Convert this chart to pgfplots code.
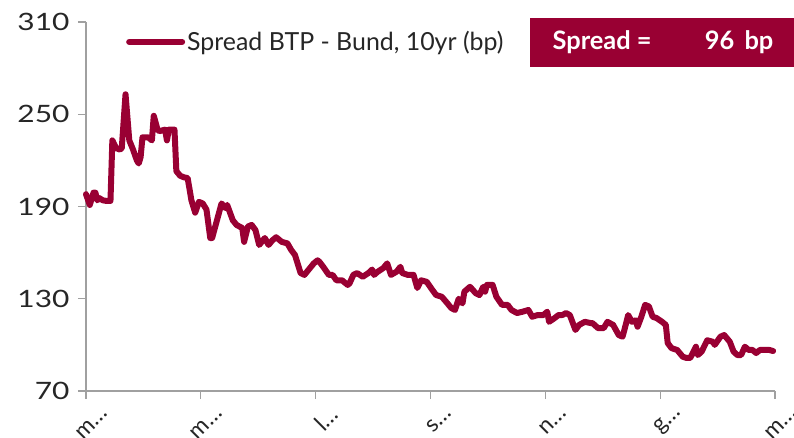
\documentclass[border=0pt]{standalone}
\usepackage{pgfplots}
\pgfplotsset{compat=1.18}
\usepackage{fontspec}
\setmainfont{Lato}[Numbers=Monospaced]
\definecolor{wine}{HTML}{990033}
\definecolor{axgrey}{HTML}{A0A0A0}
\begin{document}
\begin{tikzpicture}
\useasboundingbox (-86bp,-47bp) rectangle (708bp,391bp);
\begin{axis}[
  at={(0,0)}, anchor=south west,
  scale only axis, width=689bp, height=369bp,
  xmin=0, xmax=366, ymin=70, ymax=310,
  xtick={0,61,122,183,244,305,366},
  xticklabels={m…,m…,l…,s…,n…,g…,m…},
  ytick={70,130,190,250,310},
  yticklabel={\scalebox{1.25}[1]{\pgfmathprintnumber{\tick}}},
  axis x line*=bottom, axis y line*=left,
  axis line style={axgrey, line width=1.2bp},
  tick style={axgrey, line width=1.2bp},
  tick align=outside, major tick length=8bp,
  /pgf/number format/assume math mode=true,
  yticklabel style={font=\fontsize{24}{28}\selectfont, text=black!85, xshift=-5bp},
  xticklabel style={font=\fontsize{23}{26}\selectfont, text=black!85,
    xshift=21bp, yshift=-9bp, rotate=45, anchor=east},
  legend style={draw=none, fill=none, at={(0.058,0.946)}, anchor=west,
    font=\fontsize{25}{28}\selectfont, text=black!85, inner sep=0pt},
  legend image code/.code={\draw[#1, line width=6bp] (0bp,0bp) -- (53bp,0bp);},
  clip=false,
]
\addplot[wine, line width=6bp, line join=round, line cap=round] coordinates {
(0,198) (2,191) (4,199) (5,199) (6,194) (7,195.5) (9,194) (11,193.6) (13,193.6)
(14,233) (16,228) (18,227) (19,228) (21,263) (23,233) (25,227) (27,220) (28,218)
(29,222) (30,235) (33,235) (35,233) (36,249) (38,240) (39,239) (42,240) (43,233)
(44,240) (47,240) (48,213) (50,210) (52,209) (54,208.5) (56,194) (58,186) (60,193)
(62,192) (64,188) (66,169.5) (67,169.5) (70,183) (72,192) (74,189) (75,191) (78,181)
(80,178) (83,176) (84,167) (86,177) (88,178) (90,174.7) (92,165) (95,169.5) (97,165)
(99,168) (101,170) (104,167) (107,166) (109,161.7) (111,158.5) (114,146.7) (116,145.5)
(119,150) (121,153) (123,155) (124,154) (126,150.8) (129,145.5) (131,145.5) (133,142)
(136,142) (139,139) (140,140) (142,145.5) (144,146.7) (147,144.3) (150,146.7) (152,149)
(153,145.5) (155,147.6) (158,150) (160,153) (162,145.5) (165,147.6) (167,150.8)
(168,146.7) (171,145.5) (174,145.5) (176,137) (178,142) (181,141) (184,135.7)
(186,132.4) (189,131.3) (192,127) (194,124) (196,122.7) (198,130) (200,127) (201,134.6)
(204,137.8) (207,133.6) (209,132.4) (211,137.8) (212,134.6) (213,139) (216,139)
(218,131.3) (221,126) (224,126) (226,122.7) (229,120.7) (232,121.6) (235,122.7)
(237,118.3) (240,119.4) (243,119.4) (245,121.6) (246,115) (249,117.5) (251,119.4)
(253,119.4) (255,120.7) (257,119.4) (260,109.7) (262,113) (265,115) (268,114.2)
(269,114.2) (272,110.9) (275,110.9) (277,115) (280,113) (283,106.4) (285,105.3)
(286,109.7) (288,119.4) (290,115) (292,116) (293,111.8) (295,118.3) (297,126) (299,125)
(301,118.3) (303,117.5) (306,115) (308,113) (309,101.2) (311,97.9) (314,96.7)
(317,92.3) (319,91.5) (321,91.5) (324,98.8) (325,93.4) (327,95.6) (330,103) (333,102)
(334,100) (337,105.3) (339,106.4) (342,102) (344,95.6) (346,93.4) (348,93.4)
(350,98.8) (352,96.7) (354,96.7) (356,94.7) (358,96.7) (361,96.7) (363,96.7) (365,96)
};
\addlegendentry{Spread BTP - Bund, 10yr (bp)}
\fill[wine] (rel axis cs:0.644,0.878) rectangle (rel axis cs:1.03,1.011);
\node[anchor=west, text=white, font=\fontsize{25.5}{28}\selectfont\bfseries, inner sep=0pt]
  at (rel axis cs:0.677,0.9445) {Spread =};
\node[anchor=east, text=white, font=\fontsize{25.5}{28}\selectfont\bfseries, inner sep=0pt]
  at (rel axis cs:0.998,0.9445) {96\hspace{0.4em}bp};
\end{axis}
\end{tikzpicture}
\end{document}
